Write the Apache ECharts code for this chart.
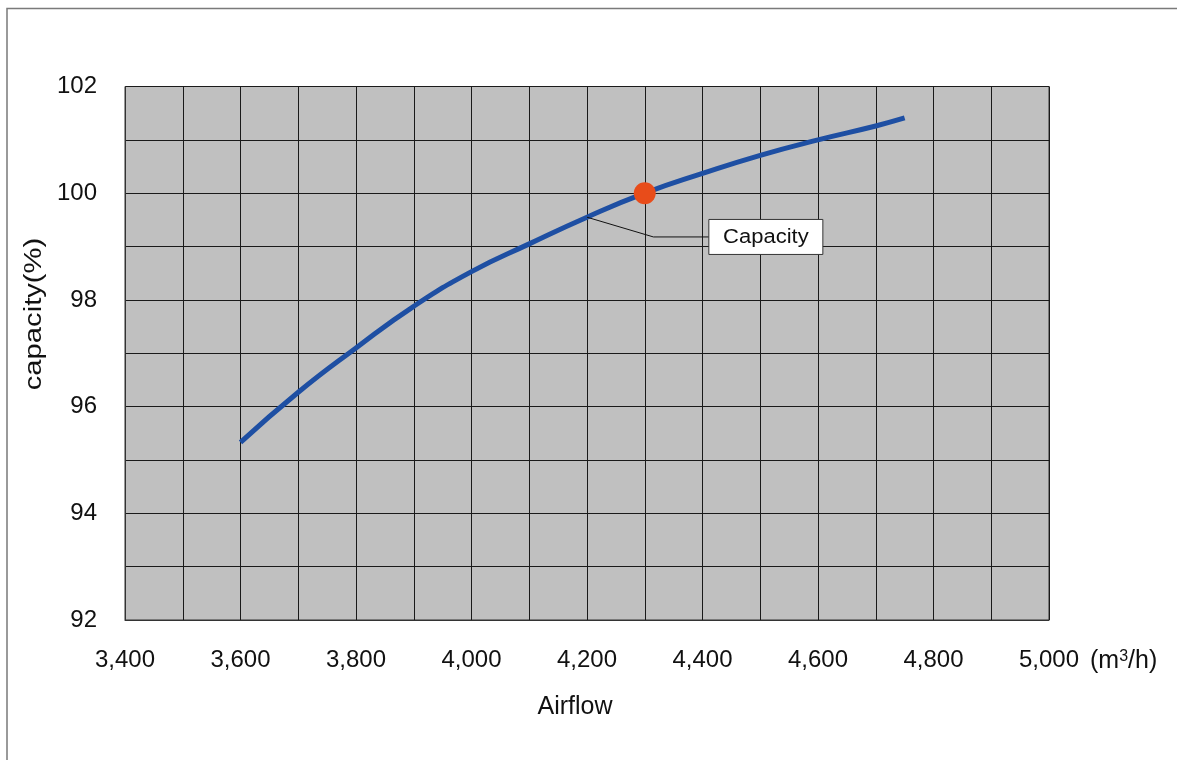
<!DOCTYPE html>
<html>
<head>
<meta charset="utf-8">
<script src="https://cdn.jsdelivr.net/npm/echarts@6/dist/echarts.min.js"></script>
<style>
html,body{margin:0;padding:0;background:#fff;}
#chart{width:1177px;height:760px;}
</style>
</head>
<body>
<div id="chart"></div>
<script>
// ---- data ----
const airflow = [3600, 3700, 3800, 3900, 4000, 4100, 4200, 4300, 4400, 4500, 4600, 4700, 4750];
const capacity = [95.33, 96.27, 97.10, 97.88, 98.53, 99.05, 99.55, 100.0, 100.37, 100.71, 101.0, 101.26, 101.41];
const ratedPoint = [4300, 100];
const xTickLabels = ['3,400', '3,600', '3,800', '4,000', '4,200', '4,400', '4,600', '4,800', '5,000'];
const yTickLabels = ['92', '94', '96', '98', '100', '102'];
const calloutText = 'Capacity';
const calloutAnchor = [4200, 99.55];
const calloutBend = [4315, 99.18];
const calloutBox = [4411, 99.18];

const FONT = '"Liberation Sans", Arial, sans-serif';
const chart = echarts.init(document.getElementById('chart'));

const lineData = airflow.map((x, i) => [x, capacity[i]]);

const option = {
  animation: false,
  backgroundColor: '#ffffff',
  grid: {
    left: 125, right: 128, top: 86.5, bottom: 140,
    show: true, backgroundColor: '#C0C0C0', borderColor: '#333', borderWidth: 1
  },
  xAxis: {
    type: 'value', min: 3400, max: 5000, interval: 100,
    axisLine: { show: true, lineStyle: { color: '#333', width: 1 } },
    axisTick: { show: false },
    splitLine: { show: true, lineStyle: { color: '#1a1a1a', width: 1 } },
    axisLabel: {
      color: '#111', fontFamily: FONT, fontSize: 24, margin: 28,
      showMinLabel: true, showMaxLabel: true,
      formatter: v => (v % 200 === 0 ? xTickLabels[(v - 3400) / 200] : '')
    }
  },
  yAxis: {
    type: 'value', min: 92, max: 102, interval: 1,
    axisLine: { show: true, lineStyle: { color: '#333', width: 1 } },
    axisTick: { show: false },
    splitLine: { show: true, lineStyle: { color: '#1a1a1a', width: 1 } },
    axisLabel: {
      color: '#111', fontFamily: FONT, fontSize: 24, margin: 28,
      formatter: v => (v % 2 === 0 ? yTickLabels[(v - 92) / 2] : '')
    }
  },
  series: [
    {
      type: 'line', data: lineData, smooth: true, showSymbol: false,
      lineStyle: { color: '#1E4FA3', width: 5 }, z: 3
    },
    {
      type: 'scatter', data: [ratedPoint], symbolSize: 22,
      itemStyle: { color: '#E84C1A', opacity: 1 }, z: 4
    }
  ]
};
chart.setOption(option);

const a = chart.convertToPixel({ gridIndex: 0 }, calloutAnchor);
const b = chart.convertToPixel({ gridIndex: 0 }, calloutBend);
const c = chart.convertToPixel({ gridIndex: 0 }, calloutBox);

chart.setOption({
  graphic: [
    { type: 'rect', shape: { x: 7, y: 8.5, width: 1300, height: 900 },
      style: { fill: 'none', stroke: '#7a7a7a', lineWidth: 1.5 }, silent: true, z: 0 },
    { type: 'polyline', shape: { points: [a, b, [c[0], b[1]]] },
      style: { stroke: '#111', lineWidth: 1, fill: 'none' }, z: 5 },
    { type: 'rect', shape: { x: c[0], y: c[1] - 17.5, width: 114, height: 35 },
      style: { fill: '#fff', stroke: '#333', lineWidth: 1 }, z: 6 },
    { type: 'text', x: c[0] + 57, y: c[1] + 1, scaleX: 1.1, z: 7,
      style: { text: calloutText, font: '20px ' + FONT, fill: '#111', align: 'center', verticalAlign: 'middle' } },
    { type: 'text', x: 35, y: 314, rotation: Math.PI / 2, scaleX: 1.27, z: 7,
      style: { text: 'capacity(%)', font: '23px ' + FONT, fill: '#111', align: 'center', verticalAlign: 'middle' } },
    { type: 'text', x: 575, y: 707, z: 7,
      style: { text: 'Airflow', font: '25px ' + FONT, fill: '#111', align: 'center', verticalAlign: 'middle' } },
    { type: 'text', x: 1090, y: 661, z: 7,
      style: {
        text: '{a|(m}{s|3}{a|/h)}', align: 'left', verticalAlign: 'middle',
        rich: {
          a: { font: '25px ' + FONT, fill: '#111', verticalAlign: 'bottom' },
          s: { font: '16px ' + FONT, fill: '#111', verticalAlign: 'top', padding: [0, 0, 8, 0] }
        }
      } }
  ]
});
</script>
</body>
</html>
